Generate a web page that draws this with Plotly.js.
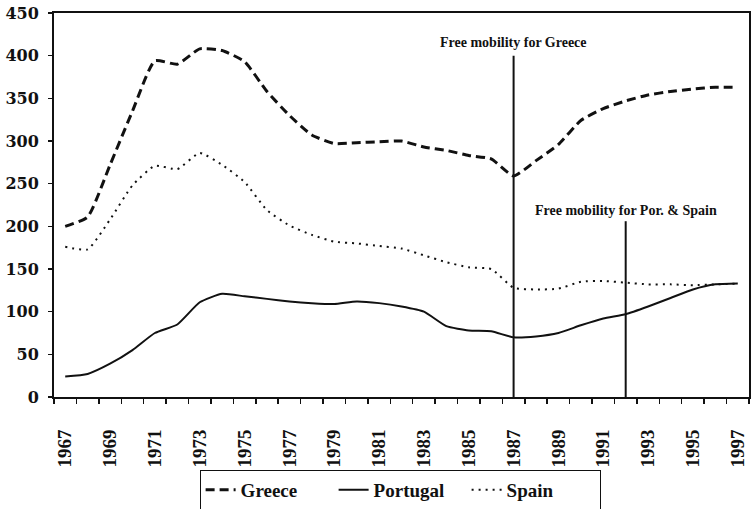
<!DOCTYPE html>
<html>
<head>
<meta charset="utf-8">
<script src="https://cdn.plot.ly/plotly-3.0.1.min.js"></script>
<style>html,body{margin:0;padding:0;background:#fff;}#chart{width:751px;height:509px;}</style>
</head>
<body>
<div id="chart"></div>
<script>
var years = [1967,1968,1969,1970,1971,1972,1973,1974,1975,1976,1977,1978,1979,1980,1981,1982,1983,1984,1985,1986,1987,1988,1989,1990,1991,1992,1993,1994,1995,1996,1997];
var greece = [200,211,272,335,394,390,408,406,393,358,330,307,297,298,299,300,293,289,283,279,259,277,296,324,338,347,354,358,361,363,363];
var portugal = [24,27,39,55,75,85,111,121,118,115,112,110,109,112,110,106,100,83,78,77,70,71,75,84,92,97,106,116,126,132,133];
var spain = [176,173,208,248,271,267,286,272,252,219,201,190,182,180,177,174,166,158,152,150,128,126,127,135,136,134,132,132,131,132,133];
var tickYears = [1967,1969,1971,1973,1975,1977,1979,1981,1983,1985,1987,1989,1991,1993,1995,1997];
var eventYears = [1987, 1992];
var eventTops = [400, 206];
var eventLabels = ["Free mobility for Greece", "Free mobility for Por. &amp; Spain"];
var eventLabelY = [416, 219];

var serif = "Liberation Serif, Times New Roman, serif";
var traces = [
  {x: years, y: greece, name: "Greece", mode: "lines", line: {color: "#111", width: 3, dash: "9px,5px", shape: "spline", smoothing: 0.5}},
  {x: years, y: portugal, name: "Portugal", mode: "lines", line: {color: "#111", width: 2, shape: "spline", smoothing: 0.5}},
  {x: years, y: spain, name: "Spain", mode: "lines", line: {color: "#111", width: 2, dash: "2px,5px", shape: "spline", smoothing: 0.5}}
];
var shapes = eventYears.map(function (yr, i) {
  return {type: "line", xref: "x", yref: "y", x0: yr, x1: yr, y0: 0, y1: eventTops[i], line: {color: "#111", width: 2}};
});
var annotations = eventYears.map(function (yr, i) {
  return {xref: "x", yref: "y", x: yr, y: eventLabelY[i], text: eventLabels[i], showarrow: false,
          font: {family: serif, size: 14, color: "#111", weight: "bold"}};
});
var layout = {
  width: 751, height: 509,
  margin: {l: 54, r: 2, t: 13, b: 112, autoexpand: false},
  paper_bgcolor: "#fff", plot_bgcolor: "#fff",
  showlegend: true,
  xaxis: {
    type: "linear", range: [1966.5, 1997.5], tickmode: "array", tickvals: tickYears,
    ticktext: tickYears.map(String), tickangle: -90, ticks: "", ticklabelstandoff: 23, automargin: false,
    showgrid: false, zeroline: false, showline: true, linecolor: "#111", linewidth: 2, mirror: true,
    tickfont: {family: serif, size: 19, color: "#111", weight: "bold"},
    minor: {ticks: "outside", ticklen: 5, tickwidth: 1.5, tickcolor: "#111", tick0: 1966.5, dtick: 1, showgrid: false}
  },
  yaxis: {
    range: [0, 450], dtick: 50, tick0: 0, ticks: "outside", ticklen: 4, tickwidth: 1.5, tickcolor: "#111",
    showgrid: false, zeroline: false, showline: true, linecolor: "#111", linewidth: 2, mirror: true,
    ticklabelstandoff: 6, automargin: false,
    tickfont: {family: "DejaVu Serif, serif", size: 16, color: "#111", weight: "bold"}
  },
  legend: {
    orientation: "h", x: 0.498, xanchor: "center", y: -0.19, yanchor: "top",
    bordercolor: "#111", borderwidth: 1, bgcolor: "#fff",
    font: {family: serif, size: 19, color: "#111", weight: "bold"},
    entrywidth: 88, entrywidthmode: "pixels", tracegroupgap: 0
  },
  shapes: shapes,
  annotations: annotations
};
Plotly.newPlot("chart", traces, layout, {displayModeBar: false, staticPlot: true});
</script>
</body>
</html>
